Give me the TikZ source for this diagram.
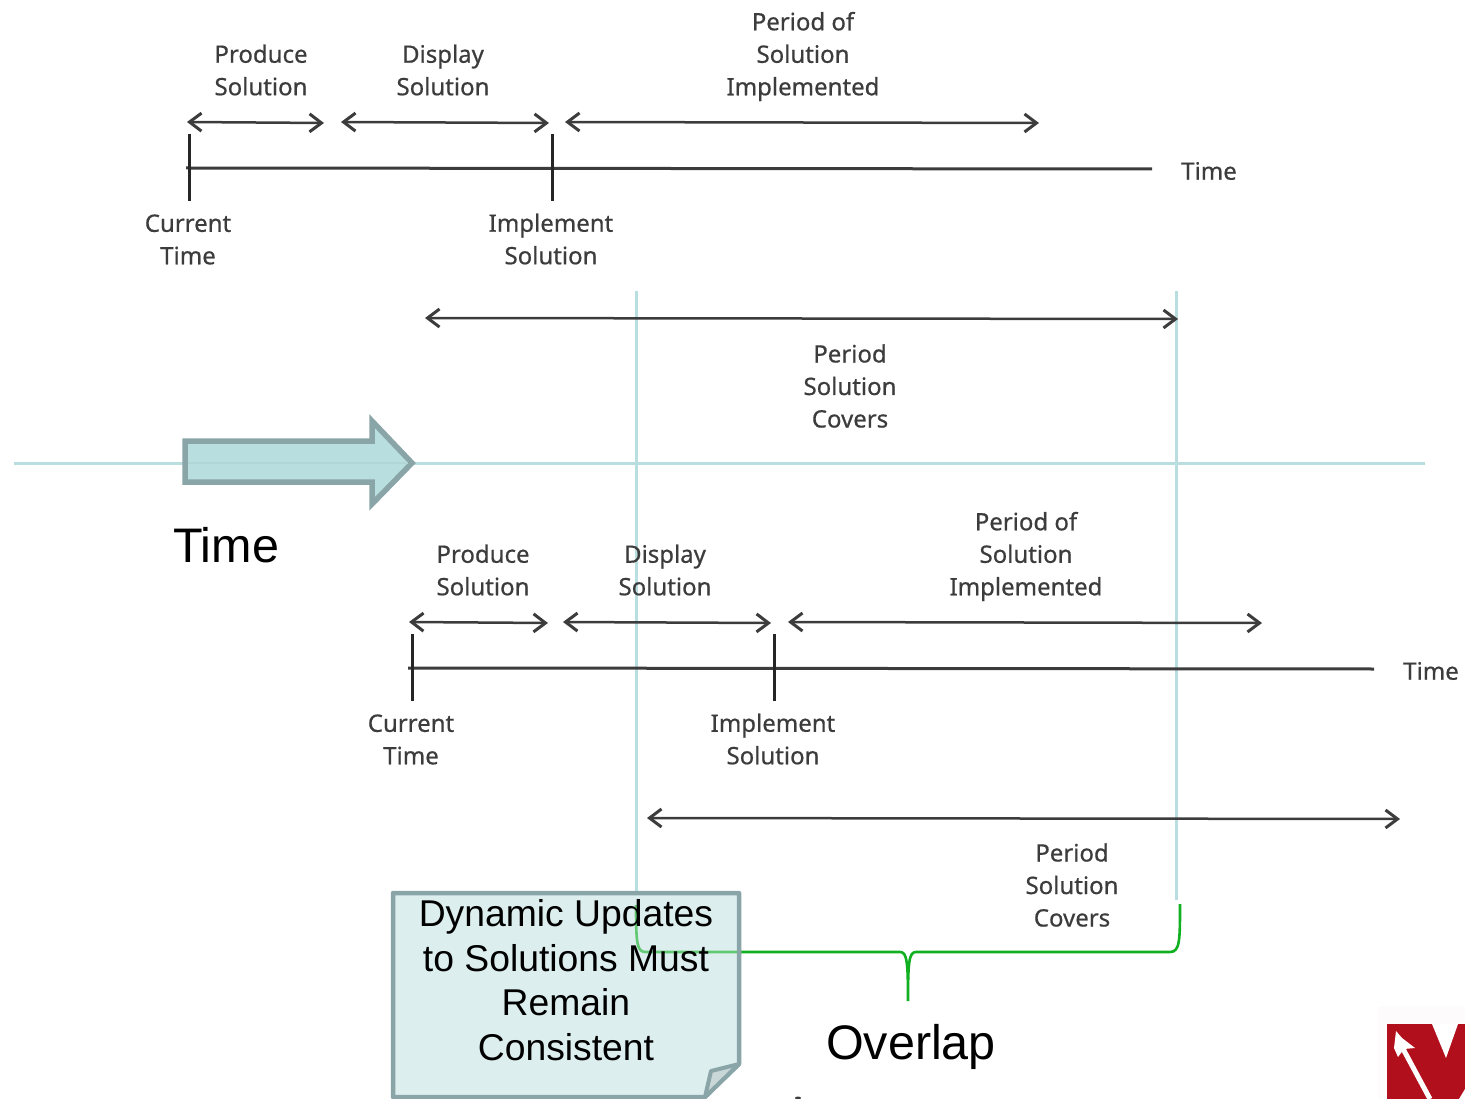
\documentclass[tikz,border=0pt]{standalone}
\usepackage{fontspec}
\setmainfont{Liberation Sans}
\newfontfamily\labelfont[RawFeature={embolden=0.6}]{Noto Sans}
\usetikzlibrary{arrows.meta}
\definecolor{linedark}{HTML}{3C3C3C}
\definecolor{paleblue}{HTML}{B8DEE0}
\definecolor{edgegray}{HTML}{8AA5A8}
\definecolor{notefill}{HTML}{DDEEEF}
\definecolor{bracegreen}{HTML}{10B020}
\definecolor{logored}{HTML}{B10F1C}
\tikzset{
  small/.style={inner sep=0pt,align=center,text=linedark,font=\labelfont\fontsize{24}{32.5}\selectfont},
  big/.style={inner sep=0pt,align=center,text=black,font=\fontsize{48.5}{50}\selectfont},
  span/.style={draw=linedark,line width=2.5pt,{Straight Barb[length=12pt,width=18pt,line width=3pt]}-{Straight Barb[length=12pt,width=18pt,line width=3pt]}},
  axis/.style={draw=linedark,line width=3pt},
  tick/.style={draw=black!85,line width=3pt},
  guide/.style={draw=paleblue,line width=3pt}
}
\begin{document}
\begin{tikzpicture}[x=1pt,y=-1pt]
  \useasboundingbox (0,0) rectangle (1465,1099);
  % guides
  \coordinate (guideL) at (14,463);
  \coordinate (guideR) at (1425,463);
  \coordinate (overA) at (636,291);
  \coordinate (overB) at (636,897);
  \coordinate (overC) at (1176,291);
  \coordinate (overD) at (1176,900);
  \draw[guide] (guideL) -- (guideR);
  \draw[guide] (overA) -- (overB);
  \draw[guide] (overC) -- (overD);
  % upper timeline
  \coordinate (a1) at (187,122);
  \coordinate (a2) at (324,123);
  \coordinate (a3) at (341,122);
  \coordinate (a4) at (549,123);
  \coordinate (a5) at (565,122);
  \coordinate (a6) at (1039,123);
  \coordinate (a7) at (425,318);
  \coordinate (a8) at (1178,319);
  \coordinate (axisA) at (186,168);
  \coordinate (axisB) at (1152,169);
  \coordinate (tickA) at (189,134);
  \coordinate (tickB) at (189,201);
  \coordinate (tickC) at (552,134);
  \coordinate (tickD) at (552,201);
  \draw[span] (a1) -- (a2);
  \draw[span] (a3) -- (a4);
  \draw[span] (a5) -- (a6);
  \draw[span] (a7) -- (a8);
  \draw[axis] (axisA) -- (axisB);
  \draw[tick] (tickA) -- (tickB);
  \draw[tick] (tickC) -- (tickD);
  \node[small] (produce) at (261,70) {Produce\\Solution};
  \node[small] (display) at (443,70) {Display\\Solution};
  \node[small] (period) at (803,56.5) {Period of\\Solution\\Implemented};
  \node[small] (time) at (1209,171) {Time};
  \node[small] (current) at (188,239.5) {Current\\Time};
  \node[small] (implement) at (551,239) {Implement\\Solution};
  \node[small] (covers) at (850,386) {Period\\Solution\\Covers};
  % lower timeline
  \coordinate (b1) at (409,622);
  \coordinate (b2) at (548,623);
  \coordinate (b3) at (563,622);
  \coordinate (b4) at (771,623);
  \coordinate (b5) at (788,622);
  \coordinate (b6) at (1262,623);
  \coordinate (b7) at (647,818);
  \coordinate (b8) at (1400,819);
  \coordinate (axisC) at (408,668);
  \coordinate (axisD) at (1374,669);
  \coordinate (tickE) at (412,634);
  \coordinate (tickF) at (412,701);
  \coordinate (tickG) at (774,634);
  \coordinate (tickH) at (774,701);
  \draw[span] (b1) -- (b2);
  \draw[span] (b3) -- (b4);
  \draw[span] (b5) -- (b6);
  \draw[span] (b7) -- (b8);
  \draw[axis] (axisC) -- (axisD);
  \draw[tick] (tickE) -- (tickF);
  \draw[tick] (tickG) -- (tickH);
  \node[small] (produce2) at (483,570) {Produce\\Solution};
  \node[small] (display2) at (665,570) {Display\\Solution};
  \node[small] (period2) at (1026,556.5) {Period of\\Solution\\Implemented};
  \node[small] (time2) at (1431,671) {Time};
  \node[small] (current2) at (411,739.5) {Current\\Time};
  \node[small] (implement2) at (773,739) {Implement\\Solution};
  \node[small] (covers2) at (1072,885) {Period\\Solution\\Covers};
  % time arrow
  \filldraw[draw=edgegray,fill=paleblue,line width=5.5pt,miter limit=10]
    (185,441) -- (372,441) -- (372,421) -- (412,463) -- (372,504) -- (372,482) -- (185,482) -- cycle;
  \draw[paleblue!90!gray,line width=1.5pt] (188,463) -- (408,463);
  \node[big] (timebig) at (226,545) {Time};
  % overlap brace
  \draw[bracegreen,line width=2.6pt] (1180,904) .. controls (1180,940) and (1180,952) .. (1170,952) -- (916,952)
    .. controls (909,952) and (908,962) .. (908,1001) .. controls (908,962) and (907,952) .. (900,952)
    -- (741,952);
  \node[big] (overlap) at (911,1047) {Overlap};
  % note
  \fill[logored!1.5] (1378,1006) rectangle (1465,1099);
  \filldraw[draw=edgegray,fill=notefill,line width=4.5pt,line join=round]
    (393,893) -- (739,893) -- (739,1064) -- (705,1097) -- (393,1097) -- cycle;
  \filldraw[draw=edgegray,fill=edgegray!45,line width=4pt,line join=round]
    (739,1064) -- (711,1071) -- (705,1097) -- cycle;
  \draw[bracegreen!60!notefill,line width=2.6pt] (737,952) -- (646,952) .. controls (637,952) and (636,945) .. (636,905);
  \node[inner sep=0pt,align=center,font=\fontsize{37.3}{44.6}\selectfont] (note) at (566,980)
    {Dynamic Updates\\to Solutions Must\\Remain\\Consistent};
  % logo
  \fill[logored] (1387,1024) rectangle (1465,1099);
  \fill[white] (1432,1024) -- (1446,1058) -- (1458,1024) -- cycle;
  \fill[white] (1465,1089) -- (1459,1099) -- (1465,1099) -- cycle;
  \draw[white,line width=5pt] (1401,1045) -- (1430,1099);
  \fill[white] (1396,1031) -- (1402,1038) -- (1415,1048) -- (1404,1049) -- (1398,1057) -- (1394,1048) -- cycle;
  \fill[linedark] (798,1098) ellipse (3 and 1.5);
\end{tikzpicture}
\end{document}
